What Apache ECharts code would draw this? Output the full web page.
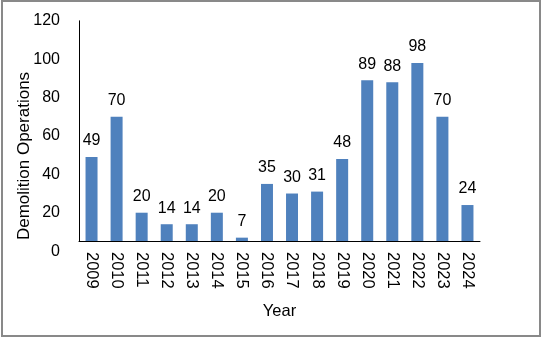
<!DOCTYPE html>
<html>
<head>
<meta charset="utf-8">
<script src="https://cdn.jsdelivr.net/npm/echarts@6/dist/echarts.min.js"></script>
<style>html,body{margin:0;padding:0;background:#fff;}#c{width:542px;height:339px;}</style>
</head>
<body>
<div id="c"></div>
<script>
var years = ['2009','2010','2011','2012','2013','2014','2015','2016','2017','2018','2019','2020','2021','2022','2023','2024'];
var operations = [49, 70, 20, 14, 14, 20, 7, 35, 30, 31, 48, 89, 88, 98, 70, 24];
var yTicks = [0, 20, 40, 60, 80, 100, 120];
var yTitle = 'Demolition Operations';
var xTitle = 'Year';

var FONT = '"Liberation Sans", Arial, sans-serif';
var chart = echarts.init(document.getElementById('c'), null, {renderer: 'canvas'});
chart.setOption({
  animation: false,
  backgroundColor: '#fff',
  textStyle: {fontFamily: FONT},
  graphic: [{
    type: 'rect', shape: {x: 2, y: 1, width: 538, height: 335},
    style: {fill: 'none', stroke: '#898989', lineWidth: 2}, z: 100
  }, {
    type: 'text', x: 24, y: 156, rotation: Math.PI / 2,
    style: {text: yTitle, fontSize: 17, fill: '#000', fontFamily: FONT, align: 'center', verticalAlign: 'middle'}
  }],
  grid: [
    {left: 79, right: 62, top: 20.8, bottom: 98},
    {left: 79, right: 62, top: 20.8, bottom: 87.9}
  ],
  xAxis: [{
    gridIndex: 0, type: 'category', data: years,
    axisLine: {show: true, lineStyle: {color: '#000', width: 1}},
    axisTick: {show: false},
    axisLabel: {rotate: -90, fontSize: 16.5, color: '#000', margin: 11, fontFamily: FONT},
    name: xTitle, nameLocation: 'middle', nameGap: 62,
    nameTextStyle: {fontSize: 16.5, color: '#000', fontFamily: FONT}
  }, {
    gridIndex: 1, type: 'category', data: years, show: false
  }],
  yAxis: [{
    gridIndex: 0, type: 'value', min: 5.26, max: 120,
    axisLine: {show: true, lineStyle: {color: '#000', width: 1}},
    axisTick: {show: false}, axisLabel: {show: false}, splitLine: {show: false}
  }, {
    gridIndex: 1, type: 'value', min: yTicks[0], max: yTicks[yTicks.length - 1], interval: 20,
    axisLine: {show: false}, axisTick: {show: false}, splitLine: {show: false},
    axisLabel: {fontSize: 16, color: '#000', margin: 19, fontFamily: FONT}
  }],
  series: [{
    type: 'bar', xAxisIndex: 0, yAxisIndex: 0, data: operations,
    barWidth: 12,
    itemStyle: {color: '#4F81BD'},
    label: {show: true, position: 'top', distance: 8, fontSize: 16, color: '#000', fontFamily: FONT}
  }]
});
</script>
</body>
</html>
